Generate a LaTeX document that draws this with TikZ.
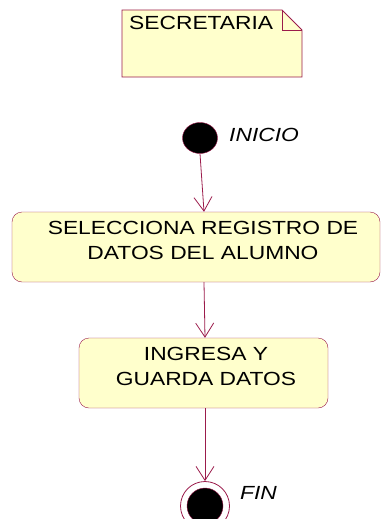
\documentclass[tikz,border=0pt]{standalone}
\usepackage{fontspec}
\setmainfont{Liberation Sans}
\newfontfamily\umlfont[FakeStretch=1.2]{Liberation Sans}
\usetikzlibrary{arrows.meta,positioning,shapes.geometric}
\definecolor{umlline}{HTML}{9B1B4B}
\definecolor{umlfill}{HTML}{FFFFCC}
\tikzset{activity/.style={draw=umlline,fill=umlfill,rounded corners=10pt,inner sep=0pt},acttext/.style={align=center,font=\umlfont\fontsize{19}{25}\selectfont,inner sep=0pt},notebox/.style={draw=umlline,fill=umlfill,line width=0.9pt},flow/.style={draw=umlline,line width=0.8pt,-{Straight Barb[length=14pt,width=18pt]}},tag/.style={font=\umlfont\fontsize{19}{22}\selectfont\itshape,inner sep=0pt},every picture/.style={x=1pt,y=-1pt}}

\begin{document}
\begin{tikzpicture}
\useasboundingbox (0,0) rectangle (381,519);
% nota de la secretaria
\draw[notebox] (122,10)--(282,10)--(302,30)--(302,77)--(122,77)--cycle;
\draw[draw=umlline,line width=0.6pt] (282,10)--(282,30)--(302,30);
\node[anchor=west,font=\umlfont\fontsize{19}{22}\selectfont,inner sep=0pt] (nota) at (129,23) {SECRETARIA};
% estados
\node[ellipse,draw=umlline,fill=black,minimum width=35pt,minimum height=31pt,inner sep=0pt] (ini) at (200,138) {};
\node[tag,anchor=west] (lini) at (229,135) {INICIO};
\node[activity,minimum width=368pt,minimum height=70pt] (sel) at (196,247) {};
\node[acttext] (tsel) at (203,240) {SELECCIONA REGISTRO DE\\DATOS DEL ALUMNO};
\node[activity,minimum width=249pt,minimum height=70pt] (ing) at (203.5,373) {};
\node[acttext] (ting) at (206,366) {INGRESA Y\\GUARDA DATOS};
\node[circle,draw=umlline,fill=white,line width=0.8pt,minimum size=49pt,inner sep=0pt] (fin) at (205,506) {};
\node[circle,draw=umlline,fill=black,minimum size=36pt,inner sep=0pt] (finin) at (fin) {};
\node[tag,anchor=west] (lfin) at (240,493) {FIN};
% transiciones
\draw[flow] (ini.south)--(sel.north-|204,0);
\draw[flow] (sel.south-|204,0)--(ing.north-|205,0);
\draw[flow] (ing.south-|205,0)--(fin.north);
\end{tikzpicture}
\end{document}
